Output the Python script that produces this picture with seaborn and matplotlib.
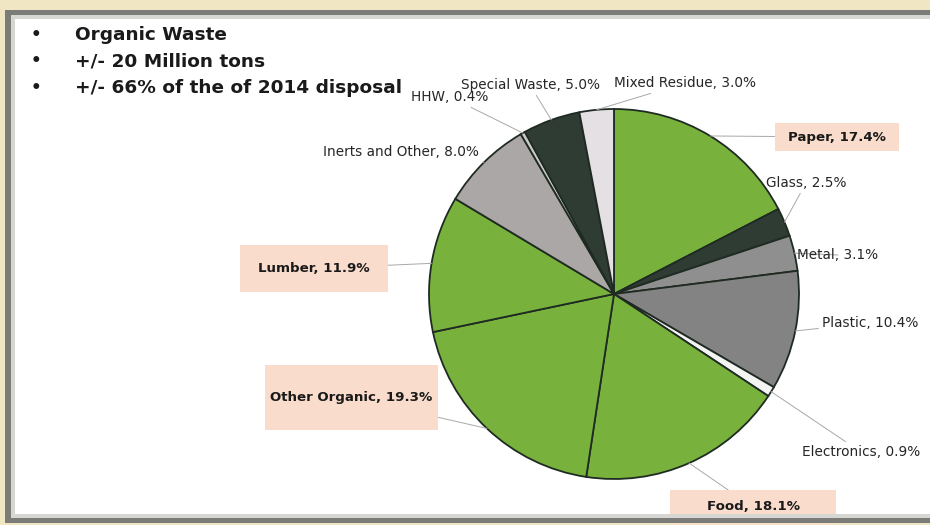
import matplotlib
matplotlib.use("Agg")
import matplotlib.pyplot as plt
from matplotlib.patches import Rectangle
from matplotlib.path import Path
import numpy as np
import seaborn as sns

# ---- data ----
categories = ["Paper", "Glass", "Metal", "Plastic", "Electronics", "Food",
              "Other Organic", "Lumber", "Inerts and Other", "HHW",
              "Special Waste", "Mixed Residue"]
shares = [17.4, 2.5, 3.1, 10.4, 0.9, 18.1, 19.3, 11.9, 8.0, 0.4, 5.0, 3.0]
highlighted = [True, False, False, False, False, True, True, True, False, False, False, False]
bullets = ["Organic Waste", "+/- 20 Million tons", "+/- 66% of the of 2014 disposal"]

GREEN = "#78b23c"
DARK = "#2f3c34"
colors = [GREEN, DARK, "#8f8f8f", "#838383", "#f4f4f4", GREEN,
          GREEN, GREEN, "#aaa7a6", "#c9c9c9", DARK, "#e4e0e4"]

# label text positions (pixel centres)
label_pos = {
    "Glass": (806, 183), "Metal": (838, 255),
    "Plastic": (870, 323), "Electronics": (861, 452),
    "Inerts and Other": (401, 152), "HHW": (450, 97),
    "Special Waste": (530, 85), "Mixed Residue": (685, 83),
}
# highlight boxes (pixel extents x0, y0, x1, y1); text centred in box
label_box = {
    "Paper": (775, 123, 899, 151), "Lumber": (240, 245, 388, 292),
    "Other Organic": (265, 365, 438, 430), "Food": (670, 490, 836, 524),
}

sns.set_theme(style="white")
plt.rcParams["font.family"] = ["DejaVu Sans"]

W, H = 930, 525
fig = plt.figure(figsize=(W / 100, H / 100), dpi=100)
fig.patch.set_facecolor("#f1e6c4")


def px(x, y):
    return (x / W, 1 - y / H)


def band(x0, y0, x1, y1, fc, z):
    fig.add_artist(Rectangle(px(x0, y1), (x1 - x0) / W, (y1 - y0) / H,
                             transform=fig.transFigure, facecolor=fc,
                             edgecolor="none", zorder=z))


def fixed_box(bw, bh):
    def style(x0, y0, width, height, mutation_size):
        c_x, c_y = x0 + width / 2, y0 + height / 2
        verts = [(c_x - bw / 2, c_y - bh / 2), (c_x + bw / 2, c_y - bh / 2),
                 (c_x + bw / 2, c_y + bh / 2), (c_x - bw / 2, c_y + bh / 2),
                 (c_x - bw / 2, c_y - bh / 2)]
        return Path(verts, closed=True)
    return style


# slide panel
band(15, 19, W + 5, 514, "white", -10)
# frame on top
band(5, 10, W + 5, 15, "#7b7b78", 20)
band(11, 15, W + 5, 19, "#d6d6d3", 20)
band(5, 10, 11, 522, "#7b7b78", 20)
band(11, 15, 15, 518, "#d6d6d3", 20)
band(11, 514, W + 5, 518, "#d6d6d3", 20)
band(5, 518, W + 5, 523, "#7b7b78", 20)

# bullets
for i, t in enumerate(bullets):
    y = 35 + i * 26.5
    fig.text(*px(36, y), "\u2022", fontsize=12, fontweight="bold", color="#1a1a1a",
             ha="center", va="center")
    fig.text(*px(75, y), t, fontsize=13.3, fontweight="bold", color="#1a1a1a",
             ha="left", va="center")

# pie
cx, cy, r = 614, 294, 185
ax = fig.add_axes([(cx - r) / W, (H - cy - r) / H, 2 * r / W, 2 * r / H])
ax.set_zorder(5)
ax.patch.set_alpha(0)
wedges, _ = ax.pie(shares, colors=colors, startangle=90, counterclock=False,
                   wedgeprops=dict(edgecolor="#1f2b22", linewidth=1.3, clip_on=False))
ax.set_xlim(-1, 1)
ax.set_ylim(-1, 1)
ax.set_aspect("auto")
ax.axis("off")

for w, cat, val, hl in zip(wedges, categories, shares, highlighted):
    mid = np.deg2rad((w.theta1 + w.theta2) / 2)
    xy = (np.cos(mid), np.sin(mid))
    kw = dict(fontsize=9.8, color="#262626", ha="center", va="center")
    if hl:
        x0, y0, x1, y1 = label_box[cat]
        pos = ((x0 + x1) / 2, (y0 + y1) / 2)
        kw.update(fontweight="bold", fontsize=9.6, color="#1a1a1a")
        bbox = dict(boxstyle=fixed_box(x1 - x0, y1 - y0), facecolor="#f9dccb",
                    edgecolor="none")
    else:
        pos = label_pos[cat]
        bbox = dict(boxstyle="square,pad=0.25", facecolor="none", edgecolor="none")
    ax.annotate(f"{cat}, {val:.1f}%", xy=xy, xycoords="data",
                xytext=px(*pos), textcoords="figure fraction",
                arrowprops=dict(arrowstyle="-", color="#a8a8a8", lw=0.7,
                                shrinkA=0, shrinkB=0),
                bbox=bbox, annotation_clip=False, **kw)

fig.savefig("out.png", dpi=100, facecolor=fig.get_facecolor())
